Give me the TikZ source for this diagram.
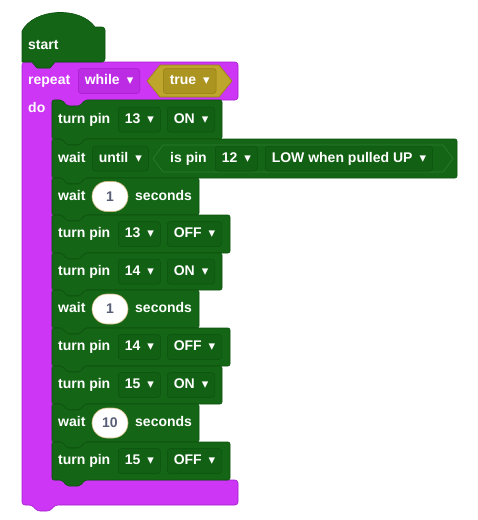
\documentclass[tikz,border=0pt]{standalone}
\usepackage{fontspec}
\setmainfont{Liberation Sans}
\newfontfamily\symfont{DejaVu Sans}
\usetikzlibrary{positioning}

\definecolor{blkgreen}{RGB}{20,102,22}
\definecolor{blkedge}{RGB}{12,82,15}
\definecolor{blklight}{RGB}{45,125,45}
\definecolor{ddgreen}{RGB}{18,96,20}
\definecolor{loopmag}{RGB}{204,54,244}
\definecolor{loopdd}{RGB}{188,44,228}
\definecolor{loopedge}{RGB}{165,30,205}
\definecolor{olive}{RGB}{190,165,44}
\definecolor{olivedd}{RGB}{172,148,32}
\definecolor{oliveedge}{RGB}{150,128,22}
\definecolor{pilledge}{RGB}{205,185,125}
\definecolor{numtext}{RGB}{87,94,117}

\newcommand{\caret}{\hspace{7pt}{\symfont\fontsize{13}{13}\selectfont ▾}}

\begin{document}
\begin{tikzpicture}[
    x=1pt, y=-1pt,
    txt/.style={text=white, font=\bfseries\fontsize{14}{16}\selectfont, anchor=west,
                inner sep=0pt, text height=10pt, text depth=3pt},
    blk/.style={fill=blkgreen, draw=blkedge, line width=0.6pt, rounded corners=2pt},
    dd/.style={txt, fill=ddgreen, draw=blkedge, line width=0.5pt, rounded corners=3pt,
               minimum height=25pt, inner xsep=6.5pt},
    ddloop/.style={dd, fill=loopdd, draw=loopedge},
    ddbool/.style={dd, fill=olivedd, draw=oliveedge},
    num/.style={fill=white, draw=pilledge, line width=0.6pt, rounded corners=15pt,
                minimum width=36pt, minimum height=30pt, inner sep=0pt, text=numtext,
                font=\bfseries\fontsize{14}{16}\selectfont},
  ]
  \useasboundingbox (0,0) rectangle (478,520);

  % repeat while (C block)
  \draw[fill=loopmag, draw=loopedge, line width=0.6pt, rounded corners=3pt]
    (22,62) -- (32,62) -- (37,68) -- (50,68) -- (55,62) -- (238,62) -- (238,100)
    -- (85,100) -- (80,106) -- (67,106) -- (62,100) -- (52,100) -- (52,480)
    -- (238,480) -- (238,505) -- (55,505) -- (50,511) -- (37,511) -- (32,505)
    -- (22,505) -- cycle;

  % start (hat block)
  \draw[fill=blkgreen, draw=blkedge, line width=0.6pt]
    (22,62) -- (22,31) .. controls (34,8) and (80,6) .. (95,27)
    [rounded corners=3pt] -- (105,27) -- (105,62) [sharp corners] -- (55,62)
    -- (50,68) -- (37,68) -- (32,62) -- cycle;
  \node[txt] (start) at (28,46) {start};

  \node[txt] (repeat) at (28,81) {repeat};
  \node[ddloop] (while) at (78,81) {while\caret};
  \draw[fill=olive, draw=oliveedge, line width=0.6pt]
    (147,81) -- (160,65) -- (219,65) -- (232,81) -- (219,97) -- (160,97) -- cycle;
  \node[ddbool] (true) at (163,81) {true\caret};
  \node[txt] (do) at (28,109) {do};

  % statement blocks
  \foreach \t/\b/\r in {100/139/222, 139/178/457, 178/215/199, 215/253/230,
                        253/290/222, 290/328/199, 328/366/230, 366/404/222,
                        404/442/199, 442/480/230}
    \draw[blk] (52,\t) -- (62,\t) -- (67,\t+6) -- (80,\t+6) -- (85,\t) -- (\r,\t)
      -- (\r,\b) -- (85,\b) -- (80,\b+6) -- (67,\b+6) -- (62,\b) -- (52,\b) -- cycle;

  % turn pin rows
  \foreach \y/\p/\s [count=\i] in {119.5/13/ON, 234/13/OFF, 271.5/14/ON,
                                   347/14/OFF, 385/15/ON, 461/15/OFF} {
    \node[txt] (turn\i) at (58,\y) {turn pin};
    \node[dd] (pin\i) at (118,\y) {\p\caret};
    \node[dd] (state\i) at (167,\y) {\s\caret};
  }

  % wait until
  \node[txt] (waitu) at (58,158.5) {wait};
  \node[dd] (until) at (92,158.5) {until\caret};
  \draw[fill=blkgreen, draw=blklight, line width=0.6pt]
    (153,158.5) -- (163,145) -- (443,145) -- (453,158.5) -- (443,172) -- (163,172) -- cycle;
  \node[txt] (ispin) at (170,158.5) {is pin};
  \node[dd] (pin12) at (215,158.5) {12\caret};
  \node[dd] (level) at (265,158.5) {LOW when pulled UP\caret};

  % wait n seconds
  \foreach \y/\n [count=\i] in {196.5/1, 309/1, 423/10} {
    \node[txt] (wait\i) at (58,\y) {wait};
    \node[num] (secs\i) at (110,\y) {\n};
    \node[txt] (unit\i) at (135,\y) {seconds};
  }
\end{tikzpicture}
\end{document}
